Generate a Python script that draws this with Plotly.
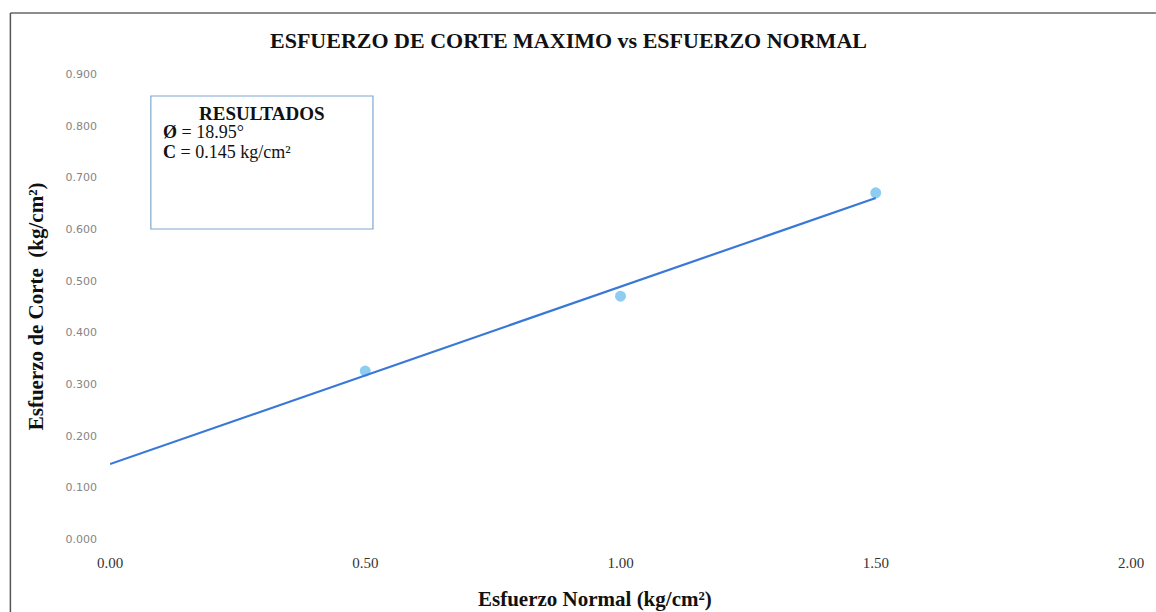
import math
import plotly.graph_objects as go

# Ensayo de corte directo: esfuerzo normal vs esfuerzo de corte máximo
esfuerzo_normal = [0.50, 1.00, 1.50]
esfuerzo_corte = [0.325, 0.470, 0.670]

# Parámetros de resistencia obtenidos
phi_deg = 18.95
cohesion = 0.145

x_ticks = [0.0, 0.5, 1.0, 1.5, 2.0]
y_ticks = [0.0, 0.1, 0.2, 0.3, 0.4, 0.5, 0.6, 0.7, 0.8, 0.9]

# Envolvente de Mohr-Coulomb: tau = C + sigma * tan(phi)
recta_x = [0.0, 1.5]
recta_y = [cohesion + s * math.tan(math.radians(phi_deg)) for s in recta_x]

W, H = 1156, 612
L, R, T, B = 110, 21, 74, 73
pw, ph = W - L - R, H - T - B


def px(xp):
    return (xp - L) / pw


def py(yp):
    return (H - B - yp) / ph


SERIF = "Liberation Serif, Times New Roman, serif"

fig = go.Figure()
fig.add_trace(go.Scatter(
    x=esfuerzo_normal, y=esfuerzo_corte, mode="markers",
    marker=dict(color="#8ecdf2", size=11, symbol="circle"),
    showlegend=False,
))
fig.add_trace(go.Scatter(
    x=recta_x, y=recta_y, mode="lines",
    line=dict(color="#3a78d8", width=2.2),
    showlegend=False,
))

fig.update_layout(
    width=W, height=H,
    margin=dict(l=L, r=R, t=T, b=B),
    paper_bgcolor="white", plot_bgcolor="white",
    xaxis=dict(
        range=[0, 2.0], tickvals=x_ticks,
        ticktext=[f"{v:.2f}" for v in x_ticks],
        showgrid=False, zeroline=False, showline=False,
        tickfont=dict(family=SERIF, size=15, color="#333333"),
        ticklabelstandoff=13,
    ),
    yaxis=dict(
        range=[0, 0.9], tickvals=y_ticks,
        ticktext=[f"{v:.3f}" for v in y_ticks],
        showgrid=False, zeroline=False, showline=False,
        tickfont=dict(family="DejaVu Sans, sans-serif", size=11, color="#858585"),
        ticklabelstandoff=12,
    ),
    shapes=[
        # marco exterior
        dict(type="line", xref="paper", yref="paper",
             x0=px(10), x1=px(1160), y0=py(13), y1=py(13),
             line=dict(color="#666666", width=1.5)),
        dict(type="line", xref="paper", yref="paper",
             x0=px(10), x1=px(10), y0=py(13), y1=py(615),
             line=dict(color="#555555", width=1.5)),
        # cuadro de resultados
        dict(type="rect", xref="paper", yref="paper",
             x0=px(151), x1=px(374), y0=py(229), y1=py(96),
             line=dict(color="#7ea8d2", width=1.2), fillcolor="white"),
    ],
    annotations=[
        dict(text="<b>ESFUERZO DE CORTE MAXIMO vs ESFUERZO NORMAL</b>",
             xref="paper", yref="paper", x=px(570), y=py(40),
             showarrow=False, xanchor="center", yanchor="middle",
             font=dict(family=SERIF, size=22, color="#111111")),
        dict(text="<b>Esfuerzo de Corte  (kg/cm²)</b>",
             xref="paper", yref="paper", x=px(36), y=py(306),
             showarrow=False, textangle=-90, xanchor="center", yanchor="middle",
             font=dict(family=SERIF, size=21, color="#111111")),
        dict(text="<b>Esfuerzo Normal (kg/cm²)</b>",
             xref="paper", yref="paper", x=px(597), y=py(599),
             showarrow=False, xanchor="center", yanchor="middle",
             font=dict(family=SERIF, size=21, color="#111111")),
        dict(text="<b>RESULTADOS</b>",
             xref="paper", yref="paper", x=px(263), y=py(113),
             showarrow=False, xanchor="center", yanchor="middle",
             font=dict(family=SERIF, size=19, color="#111111")),
        dict(text=f"<b>Ø</b> = {phi_deg:.2f}°",
             xref="paper", yref="paper", x=px(161), y=py(132),
             showarrow=False, xanchor="left", yanchor="middle",
             font=dict(family=SERIF, size=18, color="#111111")),
        dict(text=f"<b>C</b> = {cohesion:.3f} kg/cm²",
             xref="paper", yref="paper", x=px(161), y=py(152),
             showarrow=False, xanchor="left", yanchor="middle",
             font=dict(family=SERIF, size=18, color="#111111")),
    ],
)

fig.write_html("out.html")
